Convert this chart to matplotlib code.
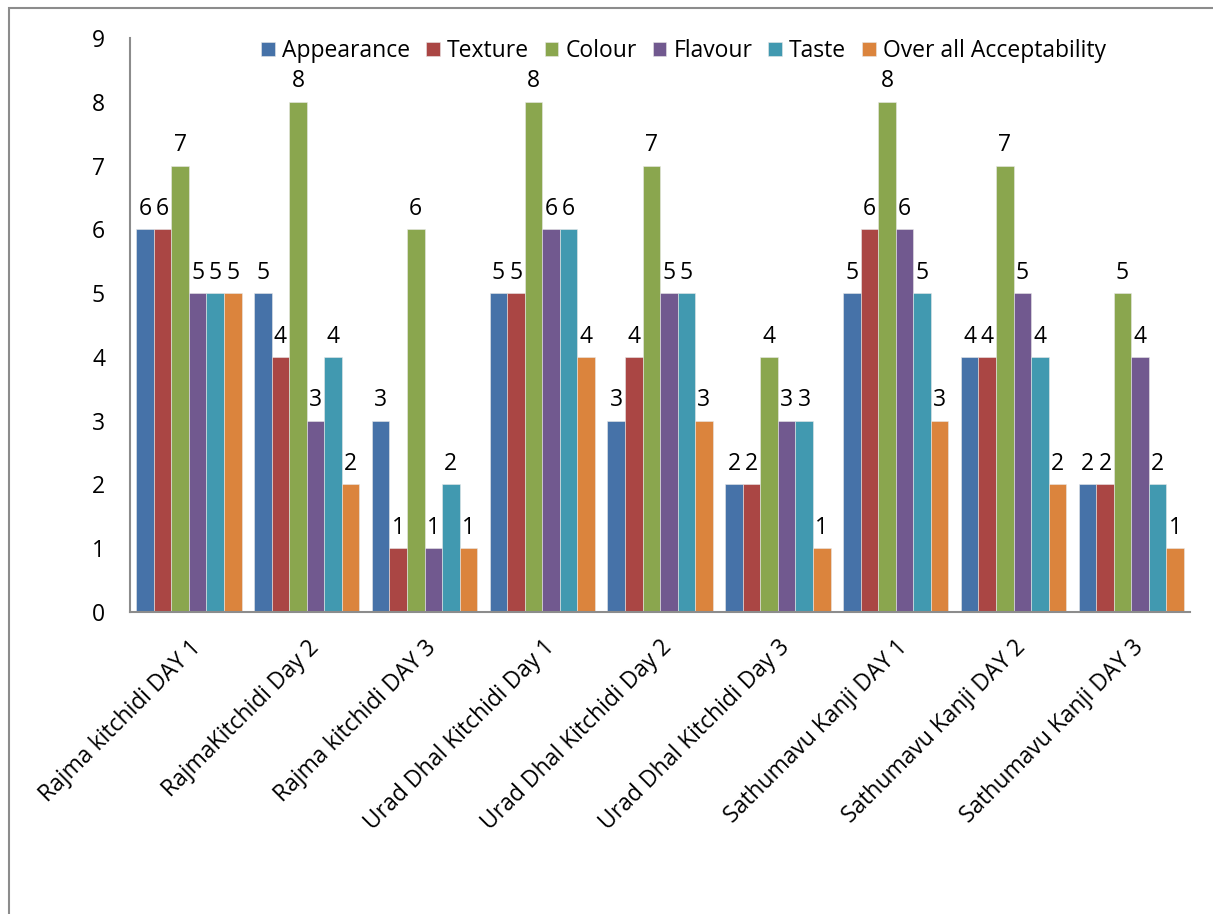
import numpy as np
import matplotlib.pyplot as plt
from matplotlib.patches import Rectangle

plt.rcParams['font.family'] = ['Open Sans', 'DejaVu Sans']

categories = ['Rajma kitchidi DAY 1', 'RajmaKitchidi Day 2', 'Rajma kitchidi DAY 3',
              'Urad Dhal Kitchidi Day 1', 'Urad Dhal Kitchidi Day 2', 'Urad Dhal Kitchidi Day 3',
              'Sathumavu Kanji DAY 1', 'Sathumavu Kanji DAY 2', 'Sathumavu Kanji DAY 3']
series_names = ['Appearance', 'Texture', 'Colour', 'Flavour', 'Taste', 'Over all Acceptability']

appearance = [6, 5, 3, 5, 3, 2, 5, 4, 2]
texture = [6, 4, 1, 5, 4, 2, 6, 4, 2]
colour = [7, 8, 6, 8, 7, 4, 8, 7, 5]
flavour = [5, 3, 1, 6, 5, 3, 6, 5, 4]
taste = [5, 4, 2, 6, 5, 3, 5, 4, 2]
overall = [5, 2, 1, 4, 3, 1, 3, 2, 1]

colors = ['#4672A8', '#AA4644', '#8AA64E', '#71598F', '#4199B0', '#DB843D']
series = [appearance, texture, colour, flavour, taste, overall]

fig = plt.figure(figsize=(12.13, 9.14), dpi=100)
ax = fig.add_axes([0.1072, 0.3304, 0.874, 0.628])

x = np.arange(len(categories))
w = 0.149
for i, (vals, name, c) in enumerate(zip(series, series_names, colors)):
    pos = x + (i - 2.5) * w
    ax.bar(pos, vals, width=w, color=c, label=name, edgecolor='#e8e8e8', linewidth=0.4)
    for px, v in zip(pos, vals):
        ax.annotate(str(v), (px, v), xytext=(0, 6), textcoords='offset points',
                    ha='center', va='bottom', fontsize=16.5)

ax.set_xlim(-0.5, len(categories) - 0.5)
ax.set_ylim(0, 9)
ax.set_yticks(range(0, 10))
ax.tick_params(axis='y', length=0, pad=18, labelsize=16.5)
ax.set_xticks(x)
ax.set_xticklabels(categories, rotation=45, ha='right', rotation_mode='anchor', fontsize=16.5)
ax.tick_params(axis='x', length=0, pad=17)

for s in ['top', 'right']:
    ax.spines[s].set_visible(False)
for s in ['left', 'bottom']:
    ax.spines[s].set_color('#8c8c8c')
    ax.spines[s].set_linewidth(1.5)

ax.legend(loc='center', bbox_to_anchor=(0.522, 0.977), ncol=6, frameon=False,
          fontsize=16.5, handlelength=0.6, handleheight=0.6, handletextpad=0.3,
          columnspacing=0.7)

fig.patches.append(Rectangle((9 / 1213, -0.1), 1.2, 1 - 8 / 914 + 0.1,
                             transform=fig.transFigure, fill=False,
                             edgecolor='#8c8c8c', linewidth=1.5))

fig.savefig('out.png', dpi=100)
